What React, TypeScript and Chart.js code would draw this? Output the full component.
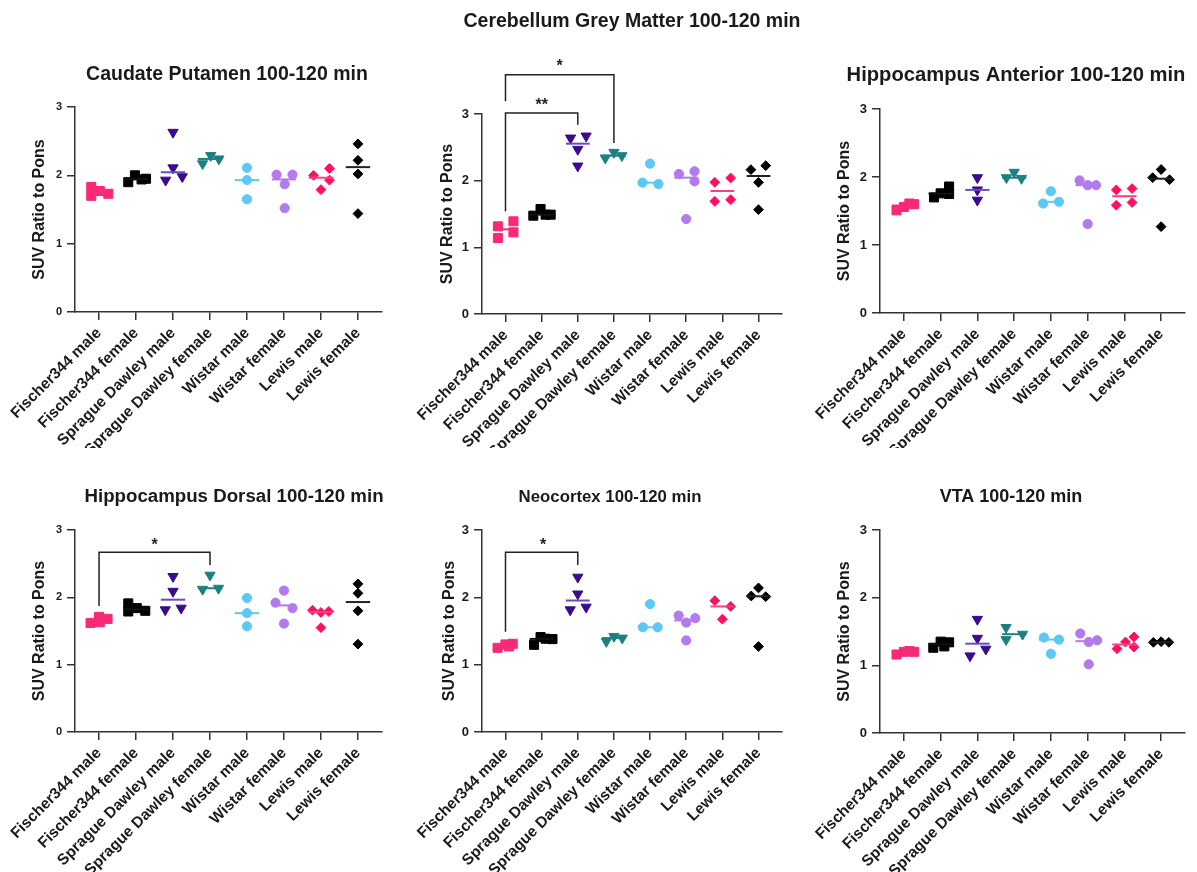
import React, { useEffect, useRef } from 'react';
import { Chart, registerables } from 'chart.js';

Chart.register(...registerables);

const FONT = "'Liberation Sans', Arial, Helvetica, sans-serif";

// ---------- data ----------
const categories = [
  'Fischer344 male',
  'Fischer344 female',
  'Sprague Dawley male',
  'Sprague Dawley female',
  'Wistar male',
  'Wistar female',
  'Lewis male',
  'Lewis female',
];

const yTickValues = [0, 1, 2, 3];

const groupColors = ['#f72a78', '#000000', '#3c0a8a', '#1d8080', '#5cc8f3', '#b27aee', '#ff0f5f', '#000000'];
const medianColors = ['#f72a78', '#111111', '#6a4cc2', '#1d8080', '#5cc8f3', '#b27aee', '#ff3d7f', '#222222'];
const groupShapes = ['rect', 'rect', 'triangle', 'triangle', 'circle', 'circle', 'rectRot', 'rectRot'];

const titles = [
  'Caudate Putamen 100-120 min',
  'Cerebellum Grey Matter 100-120 min',
  'Hippocampus Anterior 100-120 min',
  'Hippocampus Dorsal 100-120 min',
  'Neocortex 100-120 min',
  'VTA 100-120 min',
];

const caudateValues = [
  [1.83, 1.70, 1.77, 1.73],
  [1.90, 2.00, 1.94, 1.95],
  [2.63, 2.11, 1.93, 1.98],
  [2.17, 2.29, 2.24],
  [2.11, 1.93, 1.65],
  [2.01, 2.01, 1.87, 1.52],
  [2.00, 2.10, 1.93, 1.79],
  [2.46, 2.22, 2.02, 1.44],
];
const caudateJitter = [
  [-0.21, -0.21, 0.02, 0.25],
  [-0.21, -0.03, 0.15, 0.27],
  [0, 0, -0.2, 0.25],
  [-0.2, 0.02, 0.24],
  [0, 0, 0],
  [-0.2, 0.23, 0.02, 0.02],
  [-0.2, 0.23, 0.23, 0],
  [0, 0, 0, 0],
];

const cerebellumValues = [
  [1.315, 1.14, 1.39, 1.225],
  [1.475, 1.575, 1.49, 1.49],
  [2.64, 2.67, 2.47, 2.22],
  [2.34, 2.425, 2.375],
  [2.255, 1.97, 1.95],
  [2.10, 2.14, 1.99, 1.425],
  [1.975, 2.04, 1.69, 1.715],
  [2.165, 2.225, 1.975, 1.565],
];
const cerebellumJitter = [
  [-0.21, -0.21, 0.22, 0.22],
  [-0.23, -0.03, 0.11, 0.25],
  [-0.2, 0.23, 0, 0],
  [-0.24, 0, 0.22],
  [0, -0.21, 0.23],
  [-0.2, 0.23, 0.23, 0],
  [-0.21, 0.23, -0.21, 0.23],
  [-0.21, 0.2, 0, 0],
];

const hippoAntValues = [
  [1.51, 1.56, 1.61, 1.60],
  [1.70, 1.76, 1.75, 1.86],
  [1.99, 1.81, 1.66],
  [1.99, 2.07, 1.98],
  [1.79, 1.61, 1.635],
  [1.95, 1.88, 1.88, 1.31],
  [1.81, 1.83, 1.585, 1.625],
  [2.11, 1.99, 1.96, 1.27],
];
const hippoAntJitter = [
  [-0.2, 0, 0.15, 0.28],
  [-0.18, 0, 0.23, 0.23],
  [0, 0, 0],
  [-0.21, 0, 0.2],
  [0, -0.21, 0.22],
  [-0.22, 0, 0.23, 0],
  [-0.22, 0.21, -0.22, 0.21],
  [0, -0.23, 0.23, 0],
];

const hippoDorValues = [
  [1.62, 1.71, 1.68, 1.63],
  [1.91, 1.79, 1.84, 1.80],
  [2.31, 2.09, 1.815, 1.84],
  [2.33, 2.12, 2.135],
  [1.99, 1.765, 1.57],
  [2.10, 1.92, 1.84, 1.61],
  [1.81, 1.775, 1.79, 1.55],
  [2.20, 2.06, 1.80, 1.305],
];
const hippoDorJitter = [
  [-0.23, 0, 0.23, 0.02],
  [-0.21, -0.21, 0.02, 0.25],
  [0, 0, -0.21, 0.22],
  [0, -0.2, 0.23],
  [0, 0, 0],
  [0, -0.23, 0.23, 0],
  [-0.23, 0, 0.21, 0],
  [0, 0, 0, 0],
];

const neocortexValues = [
  [1.25, 1.30, 1.31, 1.27],
  [1.295, 1.41, 1.385, 1.38],
  [2.30, 2.05, 1.815, 1.855],
  [1.345, 1.42, 1.395],
  [1.90, 1.555, 1.555],
  [1.73, 1.69, 1.625, 1.36],
  [1.95, 1.865, 1.675],
  [2.02, 2.14, 2.01, 1.27],
];
const neocortexJitter = [
  [-0.22, 0, 0.2, 0.1],
  [-0.21, -0.03, 0.11, 0.3],
  [0, 0, -0.21, 0.23],
  [-0.21, 0, 0.23],
  [0, -0.2, 0.21],
  [-0.21, 0.25, 0, 0],
  [-0.21, 0.23, 0],
  [-0.2, 0, 0.2, 0],
];

const vtaValues = [
  [1.16, 1.20, 1.21, 1.20],
  [1.26, 1.35, 1.34, 1.28],
  [1.68, 1.40, 1.14, 1.24],
  [1.56, 1.38, 1.46],
  [1.41, 1.38, 1.17],
  [1.47, 1.345, 1.37, 1.015],
  [1.245, 1.345, 1.42, 1.27],
  [1.34, 1.35, 1.34],
];
const vtaJitter = [
  [-0.2, 0, 0.15, 0.28],
  [-0.2, 0, 0.23, 0.1],
  [0, 0, -0.2, 0.23],
  [-0.22, -0.22, 0.23],
  [-0.19, 0.22, 0],
  [-0.2, 0.03, 0.26, 0.03],
  [-0.2, 0.03, 0.26, 0.26],
  [-0.21, 0, 0.21],
];

type Bracket = { from: number; to: number; leftY: number; topY: number; rightY: number; label: string; labelX: number; labelY: number };

const cerebellumBrackets: Bracket[] = [
  { from: 0, to: 3, leftY: 3.19, topY: 3.59, rightY: 2.565, label: '*', labelX: 1.5, labelY: 3.765 },
  { from: 0, to: 2, leftY: 1.54, topY: 3.015, rightY: 2.84, label: '**', labelX: 1.0, labelY: 3.19 },
];
const hippoDorBrackets: Bracket[] = [
  { from: 0, to: 3, leftY: 1.87, topY: 2.67, rightY: 2.48, label: '*', labelX: 1.5, labelY: 2.83 },
];
const neocortexBrackets: Bracket[] = [
  { from: 0, to: 2, leftY: 1.49, topY: 2.67, rightY: 2.48, label: '*', labelX: 1.04, labelY: 2.83 },
];

// ---------- layout (positions only, page pixels) ----------
type Layout = {
  left: number; top: number; width: number; height: number;
  padL: number; padR: number; padTop: number; yWidth: number; xHeight: number;
  yTitlePad: number; yTickSize: number;
  titleX: number; titleY: number; titleSize: number;
};

const layouts: Layout[] = [
  { left: 0, top: 0, width: 434, height: 448, padL: 20, padR: 52, padTop: 107, yWidth: 55, xHeight: 136, yTitlePad: 10.4, yTickSize: 11, titleX: 227, titleY: 75, titleSize: 19.5 },
  { left: 400, top: 0, width: 434, height: 448, padL: 30, padR: 52, padTop: 114, yWidth: 52, xHeight: 134, yTitlePad: 8.4, yTickSize: 13, titleX: 632, titleY: 22, titleSize: 19.5 },
  { left: 800, top: 0, width: 405, height: 448, padL: 25, padR: 20, padTop: 109, yWidth: 55, xHeight: 135, yTitlePad: 10.4, yTickSize: 13, titleX: 1016, titleY: 75, titleSize: 20.2 },
  { left: 0, top: 452, width: 448, height: 420, padL: 20, padR: 66, padTop: 78, yWidth: 55, xHeight: 140, yTitlePad: 10.4, yTickSize: 11, titleX: 234, titleY: 497, titleSize: 18.7 },
  { left: 400, top: 452, width: 390, height: 420, padL: 30, padR: 8, padTop: 78, yWidth: 52, xHeight: 140, yTitlePad: 10.4, yTickSize: 13, titleX: 610, titleY: 497, titleSize: 16.8 },
  { left: 800, top: 452, width: 397, height: 420, padL: 25, padR: 12, padTop: 78, yWidth: 55, xHeight: 139, yTitlePad: 10.4, yTickSize: 13, titleX: 1011, titleY: 497, titleSize: 18 },
];

const panelValues = [caudateValues, cerebellumValues, hippoAntValues, hippoDorValues, neocortexValues, vtaValues];
const panelJitter = [caudateJitter, cerebellumJitter, hippoAntJitter, hippoDorJitter, neocortexJitter, vtaJitter];
const panelBrackets: Bracket[][] = [[], cerebellumBrackets, [], hippoDorBrackets, neocortexBrackets, []];

function median(arr: number[]): number {
  const s = [...arr].sort((a, b) => a - b);
  const n = s.length;
  return n % 2 ? s[(n - 1) / 2] : (s[n / 2 - 1] + s[n / 2]) / 2;
}

const pointRadius = (shape: string) => (shape === 'rect' ? 6.4 : shape === 'triangle' ? 5.9 : shape === 'circle' ? 4.6 : 4.9);

function Panel({ index }: { index: number }) {
  const ref = useRef<HTMLCanvasElement | null>(null);
  const lay = layouts[index];

  useEffect(() => {
    if (!ref.current) return;
    const values = panelValues[index];
    const jitter = panelJitter[index];
    const brackets = panelBrackets[index];

    const datasets: any[] = [];
    values.forEach((vals, g) => {
      datasets.push({
        label: categories[g],
        data: vals.map((v, k) => ({ x: g + jitter[g][k], y: v })),
        pointStyle: groupShapes[g],
        rotation: groupShapes[g] === 'triangle' ? 180 : 0,
        pointRadius: pointRadius(groupShapes[g]),
        backgroundColor: groupColors[g],
        borderColor: groupColors[g],
        borderWidth: 1,
        showLine: false,
        order: 2,
      });
    });
    values.forEach((vals, g) => {
      const m = median(vals);
      datasets.push({
        label: categories[g] + ' median',
        data: [{ x: g - 0.33, y: m }, { x: g + 0.33, y: m }],
        showLine: true,
        borderColor: medianColors[g],
        borderWidth: 2,
        pointRadius: 0,
        order: 1,
      });
    });
    brackets.forEach((b) => {
      datasets.push({
        label: 'bracket',
        data: [
          { x: b.from, y: b.leftY },
          { x: b.from, y: b.topY },
          { x: b.to, y: b.topY },
          { x: b.to, y: b.rightY },
        ],
        showLine: true,
        borderColor: '#222222',
        borderWidth: 1.5,
        pointRadius: 0,
        clip: false,
        order: 0,
      });
    });

    const textPlugin = {
      id: 'panelText',
      afterDraw(chart: any) {
        const { ctx, scales } = chart;
        ctx.save();
        // panel title
        ctx.font = `bold ${lay.titleSize}px ${FONT}`;
        ctx.fillStyle = '#1a1a1a';
        ctx.textAlign = 'center';
        ctx.textBaseline = 'middle';
        ctx.fillText(titles[index], lay.titleX - lay.left, lay.titleY - lay.top);
        // significance labels
        ctx.font = `bold 16px ${FONT}`;
        ctx.fillStyle = '#222222';
        brackets.forEach((b) => {
          ctx.fillText(b.label, scales.x.getPixelForValue(b.labelX), scales.y.getPixelForValue(b.labelY) + 4);
        });
        ctx.restore();
      },
    };

    const chart = new Chart(ref.current, {
      type: 'scatter',
      data: { datasets },
      plugins: [textPlugin],
      options: {
        animation: false,
        responsive: false,
        maintainAspectRatio: false,
        devicePixelRatio: 1,
        events: [],
        layout: { padding: { left: lay.padL, right: lay.padR, top: lay.padTop, bottom: 0 } },
        plugins: {
          legend: { display: false },
          tooltip: { enabled: false },
          title: { display: false },
        },
        scales: {
          x: {
            type: 'linear',
            min: -0.65,
            max: 7.65,
            afterBuildTicks: (s: any) => {
              s.ticks = categories.map((_, i) => ({ value: i }));
            },
            afterFit: (s: any) => {
              s.height = lay.xHeight;
              s.paddingLeft = 0;
              s.paddingRight = 0;
            },
            ticks: {
              autoSkip: false,
              minRotation: 45,
              maxRotation: 45,
              padding: 4,
              color: '#1a1a1a',
              font: { family: FONT, size: 15.5, weight: 'bold' },
              callback: (v: any) => categories[Math.round(Number(v))] ?? '',
            },
            grid: { display: true, drawOnChartArea: false, drawTicks: true, tickLength: 8, color: '#333333', lineWidth: 1.5 },
            border: { display: true, color: '#333333', width: 1.5 },
          },
          y: {
            type: 'linear',
            min: 0,
            max: 3,
            afterBuildTicks: (s: any) => {
              s.ticks = yTickValues.map((v) => ({ value: v }));
            },
            afterFit: (s: any) => {
              s.width = lay.yWidth;
            },
            ticks: {
              padding: 5,
              color: '#1a1a1a',
              font: { family: FONT, size: lay.yTickSize, weight: 'bold' },
            },
            grid: { display: true, drawOnChartArea: false, drawTicks: true, tickLength: 8, color: '#333333', lineWidth: 1.5 },
            border: { display: true, color: '#333333', width: 1.5 },
            title: {
              display: true,
              text: 'SUV Ratio to Pons',
              color: '#1a1a1a',
              font: { family: FONT, size: 16, weight: 'bold' },
              padding: { top: lay.yTitlePad, bottom: 0 },
            },
          },
        },
      } as any,
    });
    return () => chart.destroy();
  }, [index]);

  return (
    <canvas
      ref={ref}
      width={lay.width}
      height={lay.height}
      style={{ position: 'absolute', left: lay.left, top: lay.top, width: lay.width, height: lay.height }}
    />
  );
}

export default function App() {
  return (
    <div
      style={{
        position: 'absolute',
        left: 0,
        top: 0,
        width: 1197,
        height: 872,
        overflow: 'hidden',
        background: '#ffffff',
      }}
    >
      {layouts.map((_, i) => (
        <Panel key={i} index={i} />
      ))}
    </div>
  );
}
